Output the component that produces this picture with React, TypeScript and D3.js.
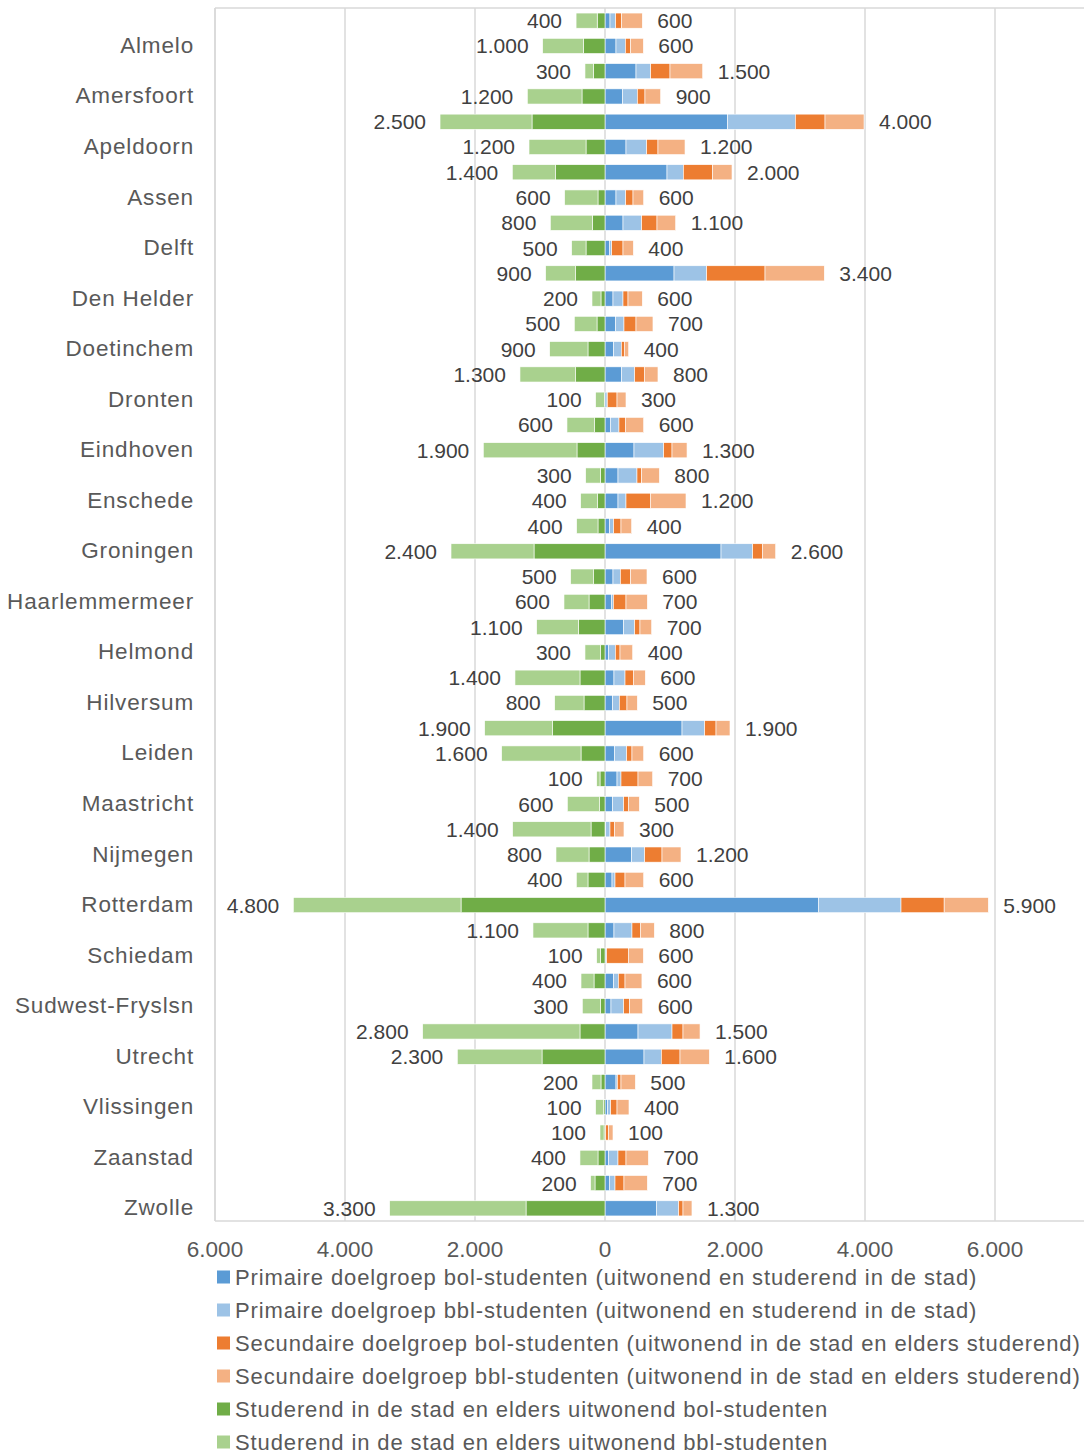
import React from "react";
import * as d3 from "d3";

// 48 rows; only every second row carries a visible city label
const rowLabels = [
  "", "Almelo", "", "Amersfoort", "", "Apeldoorn", "", "Assen",
  "", "Delft", "", "Den Helder", "", "Doetinchem", "", "Dronten",
  "", "Eindhoven", "", "Enschede", "", "Groningen", "", "Haarlemmermeer",
  "", "Helmond", "", "Hilversum", "", "Leiden", "", "Maastricht",
  "", "Nijmegen", "", "Rotterdam", "", "Schiedam", "", "Sudwest-Fryslsn",
  "", "Utrecht", "", "Vlissingen", "", "Zaanstad", "", "Zwolle",
];

// Right side (positive)
const primaireBol = [77, 169, 477, 272, 1887, 323, 954, 169, 277, 67, 1062, 123, 164, 133, 256, 30, 82, 446, 200, 200, 72, 1785, 123, 97, 287, 56, 138, 118, 1185, 149, 185, 118, 10, 410, 108, 3283, 138, 15, 133, 92, 508, 600, 169, 41, 5, 56, 67, 790];
const primaireBbl = [87, 144, 226, 225, 1041, 318, 251, 149, 287, 36, 502, 154, 128, 118, 200, 5, 133, 457, 292, 123, 61, 487, 113, 31, 169, 103, 170, 103, 348, 184, 61, 169, 67, 200, 46, 1271, 277, 10, 72, 195, 523, 267, 21, 46, 0, 144, 87, 343];
const secundaireBol = [92, 82, 297, 118, 457, 174, 451, 113, 236, 174, 898, 77, 185, 46, 149, 150, 98, 128, 72, 374, 113, 149, 159, 195, 82, 72, 128, 117, 175, 82, 262, 72, 72, 267, 154, 664, 129, 334, 103, 92, 169, 287, 56, 98, 51, 123, 138, 67];
const secundaireBbl = [318, 195, 503, 241, 600, 416, 298, 164, 287, 159, 912, 220, 261, 67, 210, 138, 282, 231, 272, 549, 164, 205, 251, 328, 180, 195, 184, 159, 215, 180, 225, 169, 143, 292, 287, 679, 215, 231, 260, 200, 262, 451, 221, 184, 67, 344, 359, 138];
// Left side (drawn negative)
const studerendBol = [120, 333, 179, 354, 1123, 292, 759, 108, 195, 292, 451, 62, 123, 262, 451, 10, 159, 431, 72, 113, 108, 1092, 174, 246, 410, 67, 385, 323, 805, 369, 77, 82, 215, 246, 262, 2215, 262, 72, 169, 67, 385, 969, 62, 20, 15, 108, 154, 1215];
const studerendBbl = [325, 626, 129, 841, 1415, 877, 667, 513, 646, 221, 462, 138, 349, 589, 857, 134, 426, 1441, 225, 261, 328, 1277, 354, 385, 641, 241, 1000, 451, 1046, 1221, 51, 497, 1206, 508, 179, 2580, 846, 56, 200, 282, 2420, 1303, 138, 124, 62, 277, 67, 2098];

const xTicks = [-6000, -4000, -2000, 0, 2000, 4000, 6000];

const legendLabels = [
  "Primaire doelgroep bol-studenten (uitwonend en studerend in de stad)",
  "Primaire doelgroep bbl-studenten (uitwonend en studerend in de stad)",
  "Secundaire doelgroep bol-studenten (uitwonend in de stad en elders studerend)",
  "Secundaire doelgroep bbl-studenten (uitwonend in de stad en elders studerend)",
  "Studerend in de stad en elders uitwonend bol-studenten",
  "Studerend in de stad en elders uitwonend bbl-studenten",
];
const colors = ["#5B9BD5", "#9DC3E6", "#ED7D31", "#F4B183", "#70AD47", "#A9D18E"];

const fmt = (n: number) => String(Math.abs(n)).replace(/\B(?=(\d{3})+(?!\d))/g, ".");

export default function App() {
  const W = 1084, H = 1452;
  const plotL = 215, plotT = 8, plotB = 1221;
  const x = d3.scaleLinear().domain([-6000, 8000]).range([plotL, plotL + 14000 * 0.065]);
  const idx = rowLabels.map((_, i) => String(i));
  const y = d3.scaleBand().domain(idx).range([plotT, plotB]).paddingInner(0.4).paddingOuter(0.2);
  const bw = y.bandwidth();
  const font = "'Liberation Sans', Arial, sans-serif";

  const rightSeries = [primaireBol, primaireBbl, secundaireBol, secundaireBbl];
  const leftSeries = [studerendBol, studerendBbl];

  const bars: React.ReactNode[] = [];
  const labels: React.ReactNode[] = [];
  rowLabels.forEach((_, i) => {
    const y0 = y(String(i))!;
    const cy = y0 + bw / 2;
    let cum = 0;
    rightSeries.forEach((s, k) => {
      const a = cum, b = cum + s[i];
      cum = b;
      if (s[i] > 0)
        bars.push(<rect key={`r${k}-${i}`} x={x(a)} y={y0} width={x(b) - x(a)} height={bw} fill={colors[k]} stroke="#fff" strokeWidth={0.6} />);
    });
    const rTot = cum;
    let lc = 0;
    leftSeries.forEach((s, k) => {
      const a = lc, b = lc + s[i];
      lc = b;
      if (s[i] > 0)
        bars.push(<rect key={`l${k}-${i}`} x={x(-b)} y={y0} width={x(-a) - x(-b)} height={bw} fill={colors[4 + k]} stroke="#fff" strokeWidth={0.6} />);
    });
    const lTot = lc;
    labels.push(
      <text key={`lt${i}`} x={x(-lTot) - 14} y={cy} textAnchor="end" dominantBaseline="central" fontSize={21} fill="#404040" fontFamily={font}>
        {fmt(Math.round(lTot / 100) * 100)}
      </text>
    );
    labels.push(
      <text key={`rt${i}`} x={x(rTot) + 15} y={cy} textAnchor="start" dominantBaseline="central" fontSize={21} fill="#404040" fontFamily={font}>
        {fmt(Math.round(rTot / 100) * 100)}
      </text>
    );
  });

  return (
    <div style={{ position: "absolute", left: 0, top: 0 }}>
      <svg width={W} height={H} style={{ display: "block", background: "#fff" }}>
        {xTicks.map((t) => (
          <line key={t} x1={x(t)} x2={x(t)} y1={plotT} y2={plotB} stroke="#d9d9d9" strokeWidth={1.5} />
        ))}
        <line x1={plotL} x2={W} y1={plotT} y2={plotT} stroke="#d9d9d9" strokeWidth={1.5} />
        <line x1={plotL} x2={W} y1={plotB} y2={plotB} stroke="#d9d9d9" strokeWidth={1.5} />
        <line x1={plotL} x2={plotL} y1={plotT} y2={plotB} stroke="#d9d9d9" strokeWidth={1.5} />
        {bars}
        {labels}
        {rowLabels.map((l, i) =>
          l ? (
            <text key={`c${i}`} x={194} y={y(String(i))! + bw / 2 - 0.5} textAnchor="end" dominantBaseline="central" fontSize={22.5} letterSpacing={0.85} fill="#595959" fontFamily={font}>
              {l}
            </text>
          ) : null
        )}
        {xTicks.map((t) => (
          <text key={`xt${t}`} x={x(t)} y={1257} textAnchor="middle" fontSize={22.5} fill="#595959" fontFamily={font}>
            {fmt(t)}
          </text>
        ))}
        {legendLabels.map((l, k) => (
          <g key={`lg${k}`} transform={`translate(217, ${1277 + k * 33})`}>
            <rect x={0} y={-6.5} width={13} height={13} fill={colors[k]} />
            <text x={18} y={7.5} fontSize={22} letterSpacing={0.88} fill="#595959" fontFamily={font}>
              {l}
            </text>
          </g>
        ))}
      </svg>
    </div>
  );
}
